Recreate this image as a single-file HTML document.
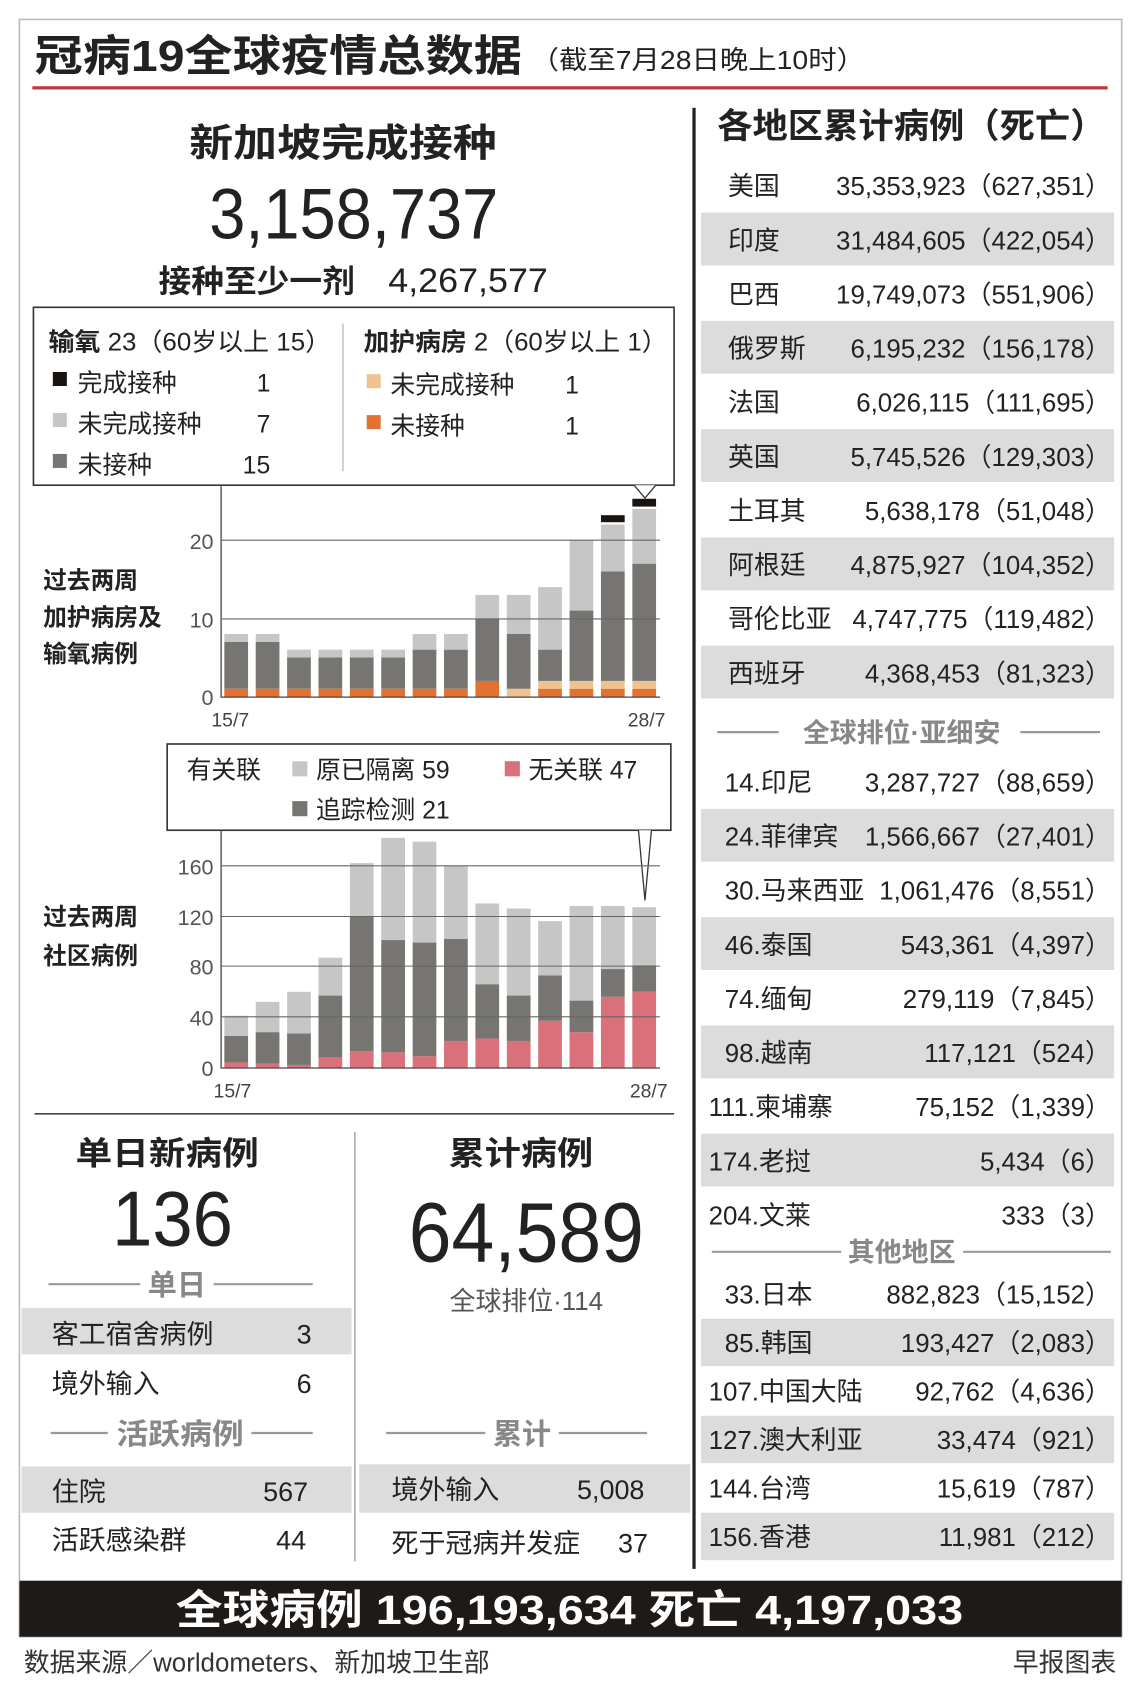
<!DOCTYPE html>
<html><head><meta charset="utf-8">
<style>
html,body{margin:0;padding:0;background:#fff;}
svg{display:block;fill:#222;}
text{font-family:"Liberation Sans","Noto Sans CJK SC",sans-serif;}
.b{font-weight:bold;}
</style></head>
<body>
<svg id="s" width="1140" height="1695" viewBox="0 0 1057 1572" preserveAspectRatio="none" xmlns="http://www.w3.org/2000/svg">
<rect x="0" y="0" width="1057" height="1572" fill="#fff"/>
<rect x="18" y="18" width="1022" height="1500" fill="none" stroke="#bbb" stroke-width="1.5"/>
<!-- title -->
<text x="32" y="66" font-size="40" class="b" fill="#222" textLength="452" lengthAdjust="spacingAndGlyphs">冠病19全球疫情总数据</text>
<text x="492" y="64" font-size="24" textLength="310" lengthAdjust="spacingAndGlyphs">（截至7月28日晚上10时）</text>
<rect x="30" y="80" width="997" height="3" fill="#c4343a"/>
<rect x="642" y="100" width="3" height="1355" fill="#222"/>

<!-- left top -->
<text x="318" y="145" font-size="36" class="b" text-anchor="middle" textLength="285" lengthAdjust="spacingAndGlyphs">新加坡完成接种</text>
<text x="328" y="221" font-size="66" text-anchor="middle" textLength="268" lengthAdjust="spacingAndGlyphs">3,158,737</text>
<text x="147" y="271" font-size="29" class="b" textLength="182" lengthAdjust="spacingAndGlyphs">接种至少一剂</text>
<text x="360" y="271" font-size="32" textLength="148" lengthAdjust="spacingAndGlyphs">4,267,577</text>

<rect x="31" y="285" width="594" height="165" fill="#fff" stroke="#333" stroke-width="1.5"/>
<line x1="318" y1="300" x2="318" y2="437" stroke="#aaa" stroke-width="1"/>
<text x="45" y="325" font-size="23" textLength="262" lengthAdjust="spacingAndGlyphs"><tspan class="b">输氧</tspan> 23（60岁以上 15）</text>
<rect x="49" y="345" width="13" height="13" fill="#1a1410"/><text x="72" y="363" font-size="23">完成接种</text><text x="238" y="363" font-size="23">1</text>
<rect x="49" y="383" width="13" height="13" fill="#c6c6c6"/><text x="72" y="401" font-size="23">未完成接种</text><text x="238" y="401" font-size="23">7</text>
<rect x="49" y="421" width="13" height="13" fill="#777571"/><text x="72" y="439" font-size="23">未接种</text><text x="225" y="439" font-size="23">15</text>
<text x="337" y="325" font-size="23" textLength="282" lengthAdjust="spacingAndGlyphs"><tspan class="b">加护病房</tspan> 2（60岁以上 1）</text>
<rect x="340" y="347" width="13" height="13" fill="#f0c38e"/><text x="362" y="365" font-size="23">未完成接种</text><text x="524" y="365" font-size="23">1</text>
<rect x="340" y="385" width="13" height="13" fill="#e3712f"/><text x="362" y="403" font-size="23">未接种</text><text x="524" y="403" font-size="23">1</text>
<polyline points="588,450 598,462 608,450" fill="#fff" stroke="#333" stroke-width="1.2"/>

<text x="40" y="546" font-size="22" class="b">过去两周</text>
<text x="40" y="580" font-size="22" class="b">加护病房及</text>
<text x="40" y="614" font-size="22" class="b">输氧病例</text>
<g id="c1"></g>
<line x1="205" y1="451" x2="205" y2="647" stroke="#444" stroke-width="1.2"/>
<g stroke="#666" stroke-width="1"><line x1="205" y1="501" x2="612" y2="501"/><line x1="205" y1="574" x2="612" y2="574"/></g>
<line x1="205" y1="646.5" x2="612" y2="646.5" stroke="#444" stroke-width="1.2"/>
<g font-size="20" fill="#555" text-anchor="end"><text x="198" y="509">20</text><text x="198" y="582">10</text><text x="198" y="654">0</text></g>
<text x="196" y="674" font-size="18" fill="#444">15/7</text><text x="582" y="674" font-size="18" fill="#444">28/7</text>

<!-- second legend -->
<rect x="155" y="690" width="467" height="80" fill="#fff" stroke="#333" stroke-width="1.5"/>
<polyline points="592,770 598,835 604,770" fill="#fff" stroke="#333" stroke-width="1.2"/>
<text x="173" y="722" font-size="23">有关联</text>
<rect x="271" y="706" width="14" height="14" fill="#c6c6c6"/><text x="293" y="722" font-size="23">原已隔离  59</text>
<rect x="468" y="706" width="14" height="14" fill="#d9707a"/><text x="490" y="722" font-size="23">无关联  47</text>
<rect x="271" y="743" width="14" height="14" fill="#777571"/><text x="293" y="759" font-size="23">追踪检测  21</text>

<text x="40" y="858" font-size="22" class="b">过去两周</text>
<text x="40" y="894" font-size="22" class="b">社区病例</text>
<g id="c2"></g>
<line x1="205" y1="770" x2="205" y2="991" stroke="#444" stroke-width="1.2"/>
<g stroke="#666" stroke-width="1"><line x1="205" y1="803" x2="612" y2="803"/><line x1="205" y1="850" x2="612" y2="850"/><line x1="205" y1="896" x2="612" y2="896"/><line x1="205" y1="943" x2="612" y2="943"/></g>
<line x1="205" y1="990.5" x2="612" y2="990.5" stroke="#444" stroke-width="1.2"/>
<g font-size="20" fill="#555" text-anchor="end"><text x="198" y="811">160</text><text x="198" y="858">120</text><text x="198" y="904">80</text><text x="198" y="951">40</text><text x="198" y="998">0</text></g>
<text x="198" y="1018" font-size="18" fill="#444">15/7</text><text x="584" y="1018" font-size="18" fill="#444">28/7</text>

<line x1="32" y1="1033" x2="625" y2="1033" stroke="#444" stroke-width="1.5"/>
<line x1="329" y1="1050" x2="329" y2="1448" stroke="#aaa" stroke-width="1.5"/>

<!-- bottom left -->
<text x="155" y="1080" font-size="30" class="b" text-anchor="middle" textLength="170" lengthAdjust="spacingAndGlyphs">单日新病例</text>
<text x="160" y="1155" font-size="72" text-anchor="middle" textLength="112" lengthAdjust="spacingAndGlyphs">136</text>
<line x1="45" y1="1191" x2="130" y2="1191" stroke="#999" stroke-width="2"/><line x1="198" y1="1191" x2="290" y2="1191" stroke="#999" stroke-width="2"/>
<text x="164" y="1201" font-size="27" class="b" fill="#888" text-anchor="middle">单日</text>
<rect x="20" y="1213" width="306" height="43" fill="#dcdcdc"/>
<text x="48" y="1246" font-size="25">客工宿舍病例</text><text x="275" y="1246" font-size="25">3</text>
<text x="48" y="1292" font-size="25">境外输入</text><text x="275" y="1292" font-size="25">6</text>
<line x1="47" y1="1329" x2="100" y2="1329" stroke="#999" stroke-width="2"/><line x1="233" y1="1329" x2="290" y2="1329" stroke="#999" stroke-width="2"/>
<text x="167" y="1339" font-size="27" class="b" fill="#888" text-anchor="middle" textLength="118" lengthAdjust="spacingAndGlyphs">活跃病例</text>
<rect x="20" y="1360" width="306" height="43" fill="#dcdcdc"/>
<text x="48" y="1392" font-size="25">住院</text><text x="244" y="1392" font-size="25">567</text>
<text x="48" y="1437" font-size="25">活跃感染群</text><text x="256" y="1437" font-size="25">44</text>

<text x="483" y="1080" font-size="30" class="b" text-anchor="middle" textLength="134" lengthAdjust="spacingAndGlyphs">累计病例</text>
<text x="488" y="1170" font-size="78" text-anchor="middle" textLength="218" lengthAdjust="spacingAndGlyphs">64,589</text>
<text x="488" y="1215" font-size="24" fill="#555" text-anchor="middle">全球排位·114</text>
<line x1="358" y1="1329" x2="450" y2="1329" stroke="#999" stroke-width="2"/><line x1="518" y1="1329" x2="600" y2="1329" stroke="#999" stroke-width="2"/>
<text x="484" y="1339" font-size="27" class="b" fill="#888" text-anchor="middle">累计</text>
<rect x="333" y="1358" width="307" height="45" fill="#dcdcdc"/>
<text x="363" y="1390" font-size="25">境外输入</text><text x="535" y="1390" font-size="25">5,008</text>
<text x="363" y="1440" font-size="25">死于冠病并发症</text><text x="573" y="1440" font-size="25">37</text>

<!-- right panel -->
<text x="665" y="128" font-size="32" class="b" textLength="360" lengthAdjust="spacingAndGlyphs">各地区累计病例（死亡）</text>
<g id="rt" font-size="24"></g>

<!-- bottom band -->
<rect x="18" y="1466" width="1022" height="52" fill="#1e1a18"/>
<text x="163" y="1506" font-size="38" class="b" fill="#fff" textLength="730" lengthAdjust="spacingAndGlyphs">全球病例 196,193,634   死亡 4,197,033</text>
<text x="22" y="1550" font-size="24" fill="#333">数据来源／worldometers、新加坡卫生部</text>
<text x="1035" y="1550" font-size="24" fill="#333" text-anchor="end">早报图表</text>
</svg>
<script>
var NS="http://www.w3.org/2000/svg";
function R(g,x,y,w,h,c){var r=document.createElementNS(NS,"rect");r.setAttribute("x",x);r.setAttribute("y",y);r.setAttribute("width",w);r.setAttribute("height",h);r.setAttribute("fill",c);g.appendChild(r);}
function T(g,x,y,s,a,extra){var t=document.createElementNS(NS,"text");t.setAttribute("x",x);t.setAttribute("y",y);if(a)t.setAttribute("text-anchor",a);if(extra)for(var k in extra)t.setAttribute(k,extra[k]);t.textContent=s;g.appendChild(t);}
var d1=[[1,0,7,8],[1,0,7,8],[1,0,5,6],[1,0,5,6],[1,0,5,6],[1,0,5,6],[1,0,6,8],[1,0,6,8],[2,0,10,13],[0,1,8,13],[1,1,6,14],[1,1,11,20],[1,1,16,22,22.3,23.2],[1,1,17,24,24.3,25.3]];
var g1=document.getElementById("c1");
function y1(v){return 646-7.25*v;}
d1.forEach(function(d,i){var x=208+29.1*i,w=22,o=d[0],p=o+d[1];
 if(o>0)R(g1,x,y1(o),w,y1(0)-y1(o),"#e3712f");
 if(d[1]>0)R(g1,x,y1(p),w,y1(o)-y1(p),"#f0c38e");
 R(g1,x,y1(d[2]),w,y1(p)-y1(d[2]),"#777571");
 R(g1,x,y1(d[3]),w,y1(d[2])-y1(d[3]),"#c6c6c6");
 if(d[4])R(g1,x,y1(d[5]),w,y1(d[4])-y1(d[5]),"#1a1410");});
var d2=[[4,25,41],[3,28,52],[2,27,60],[8,57,87],[13,120,162],[12,101,182],[9,99,179],[21,102,160],[23,66,130],[21,57,126],[37,73,116],[28,53,128],[56,78,128],[60,81,127]];
var g2=document.getElementById("c2");
function y2(v){return 990-1.17*v;}
d2.forEach(function(d,i){var x=208+29.1*i,w=22;
 R(g2,x,y2(d[0]),w,y2(0)-y2(d[0]),"#d9707a");
 R(g2,x,y2(d[1]),w,y2(d[0])-y2(d[1]),"#777571");
 R(g2,x,y2(d[2]),w,y2(d[1])-y2(d[2]),"#c6c6c6");});
var rt=document.getElementById("rt");
var A=[["美国","35,353,923（627,351）"],["印度","31,484,605（422,054）"],["巴西","19,749,073（551,906）"],["俄罗斯","6,195,232（156,178）"],["法国","6,026,115（111,695）"],["英国","5,745,526（129,303）"],["土耳其","5,638,178（51,048）"],["阿根廷","4,875,927（104,352）"],["哥伦比亚","4,747,775（119,482）"],["西班牙","4,368,453（81,323）"]];
A.forEach(function(a,i){var c=172+50.2*i;if(i%2==1)R(rt,650,c-25,383,49,"#dcdcdc");T(rt,675,c+9,a[0]);T(rt,1030,c+9,a[1],"end");});
function hdr(y,s,x1a,x2a,x1b,x2b,cx){var l=document.createElementNS(NS,"path");l.setAttribute("d","M"+x1a+" "+y+"H"+x2a+"M"+x1b+" "+y+"H"+x2b);l.setAttribute("stroke","#999");l.setAttribute("stroke-width","2");rt.appendChild(l);T(rt,cx,y+9,s,"middle",{"font-weight":"bold","fill":"#888","font-size":"25"});}
hdr(679,"全球排位·亚细安",665,722,946,1020,836);
var B=[["14.印尼","3,287,727（88,659）",672],["24.菲律宾","1,566,667（27,401）",672],["30.马来西亚","1,061,476（8,551）",672],["46.泰国","543,361（4,397）",672],["74.缅甸","279,119（7,845）",672],["98.越南","117,121（524）",672],["111.柬埔寨","75,152（1,339）",657],["174.老挝","5,434（6）",657],["204.文莱","333（3）",657]];
B.forEach(function(a,i){var c=725+50.2*i;if(i%2==1)R(rt,650,c-25,383,49,"#dcdcdc");T(rt,a[2],c+9,a[0]);T(rt,1030,c+9,a[1],"end");});
hdr(1161,"其他地区",660,780,893,1030,836);
var C=[["33.日本","882,823（15,152）",672],["85.韩国","193,427（2,083）",672],["107.中国大陆","92,762（4,636）",657],["127.澳大利亚","33,474（921）",657],["144.台湾","15,619（787）",657],["156.香港","11,981（212）",657]];
C.forEach(function(a,i){var c=1200+45*i;if(i%2==1)R(rt,650,c-22,383,44,"#dcdcdc");T(rt,a[2],c+9,a[0]);T(rt,1030,c+9,a[1],"end");});
</script>
</body></html>
